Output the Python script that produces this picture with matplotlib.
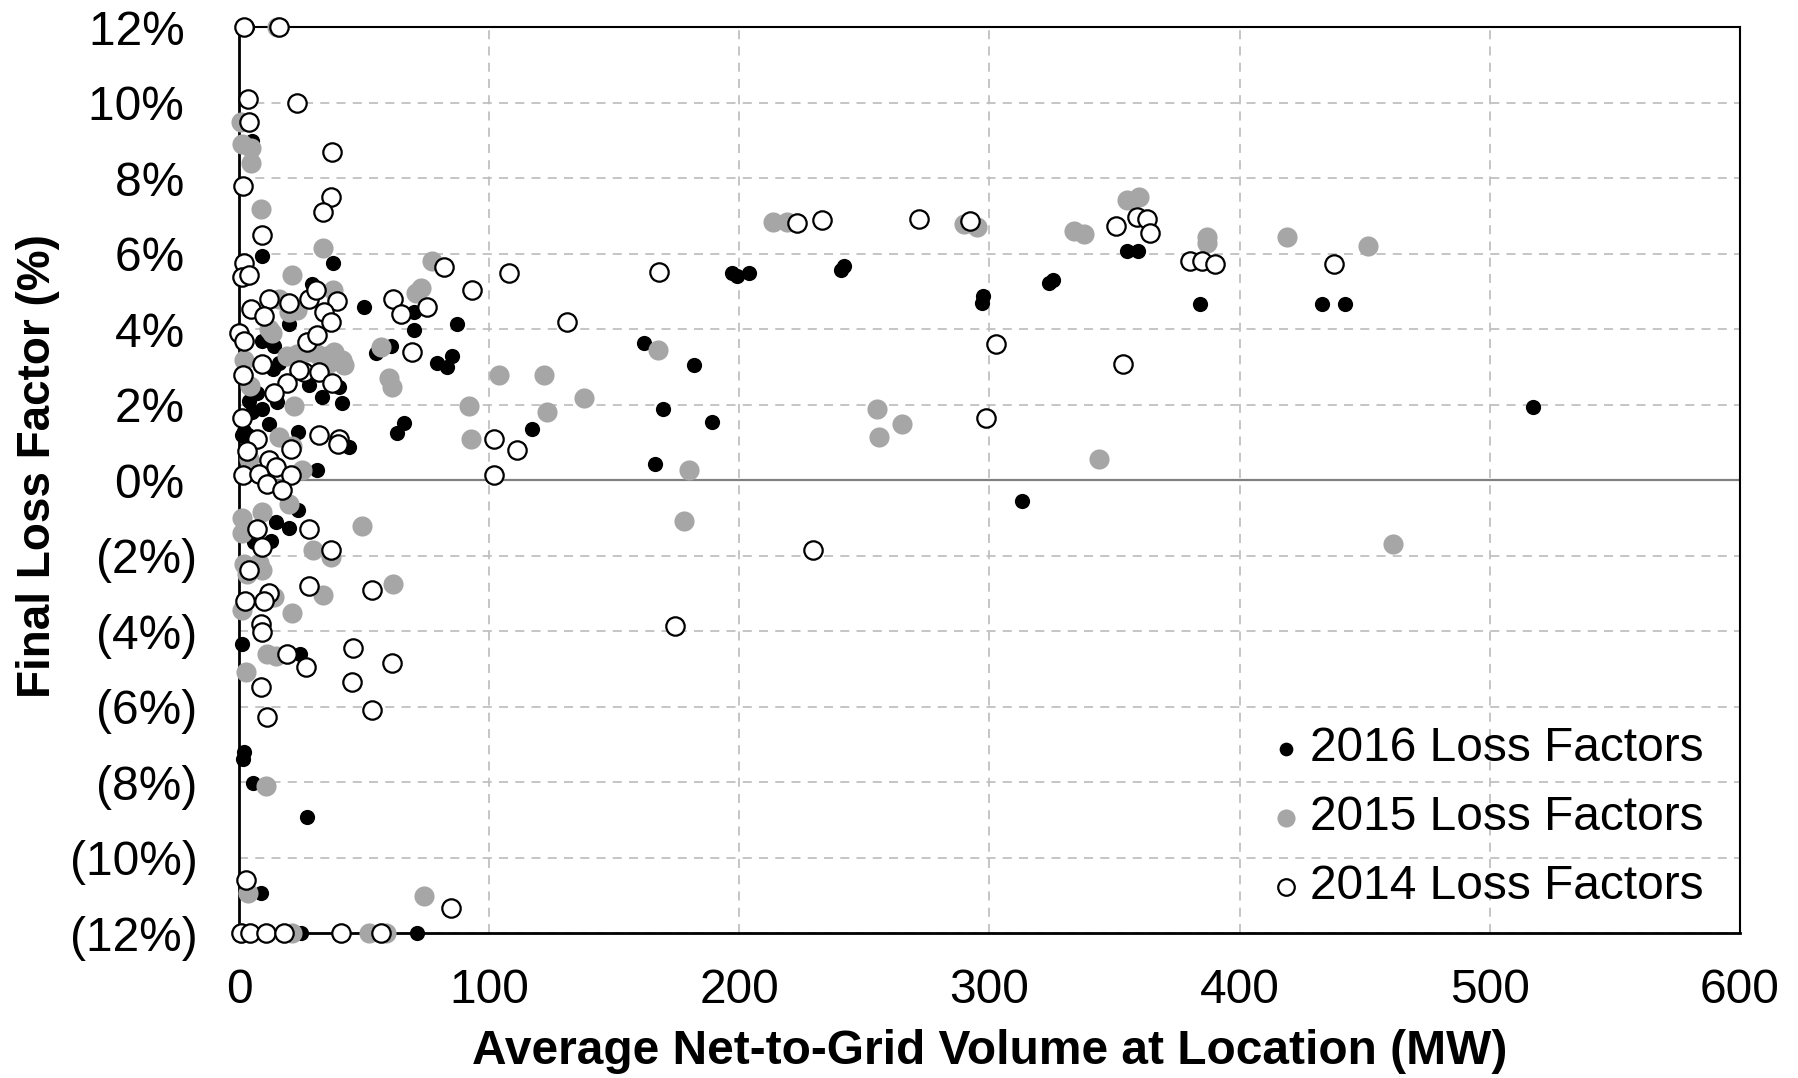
import matplotlib
matplotlib.use("Agg")
import matplotlib.pyplot as plt
from matplotlib.ticker import FuncFormatter, MultipleLocator

plt.rcParams['font.family'] = ['Liberation Sans', 'DejaVu Sans']

# 2016 loss factors (MW, %)
x16 = [3, 5, 9, 37.5, 29, 50, 70, 20, 87, 70, 9, 14, 60.5, 54.5, 16, 13.6, 79, 85, 83,
       28, 40, 33, 41, 15, 4, 9, 5, 12, 23.5, 3.5, 1, 44, 31, 63, 66, 117, 131, 162,
       166.4, 169.6, 182, 189, 197, 199, 204, 240.6, 242, 297.5, 297, 313, 324, 325.5,
       355, 359.5, 384, 433, 442, 517.5, 23.5, 14.5, 20, 12.5, 6, 1.2, 24.3, 1.9, 1.6,
       5.5, 27.2, 8.5, 24.5, 71.2, 2, 7]
y16 = [12, 9.0, 5.95, 5.75, 5.2, 4.6, 4.47, 4.15, 4.15, 3.97, 3.7, 3.55, 3.56, 3.36, 3.1,
       2.95, 3.11, 3.29, 3.01, 2.52, 2.48, 2.2, 2.05, 2.08, 2.1, 1.9, 1.8, 1.5, 1.27, 1.2,
       1.2, 0.88, 0.27, 1.24, 1.52, 1.36, 4.15, 3.64, 0.44, 1.9, 3.05, 1.54, 5.5, 5.42,
       5.48, 5.57, 5.68, 4.88, 4.7, -0.56, 5.22, 5.3, 6.07, 6.07, 4.67, 4.67, 4.67, 1.93,
       -0.8, -1.1, -1.26, -1.6, -1.64, -4.34, -4.6, -7.2, -7.4, -8.03, -8.92, -10.93,
       -12, -12, 1.3, 2.3]

# 2015 loss factors
x15 = [15, 0.5, 1, 4.5, 4.5, 8.5, 33.5, 21, 77, 72.5, 70.5, 37.5, 16, 23, 20, 12, 13, 19,
       23, 27, 31, 35, 38, 41, 42, 36, 2, 4.3, 22, 16, 21, 25, 4, 56.5, 60, 61, 92, 92.7,
       104, 122, 123, 138, 167.3, 180, 178, 213.5, 219, 255, 256, 265, 290, 295, 334, 338,
       343.7, 355, 360, 387, 387, 419, 451.4, 461.5, 1.2, 9, 1.2, 20, 49, 29.6, 36.5, 1.9,
       2.9, 9.2, 33.6, 61.4, 14, 1.2, 21, 11, 14.5, 2.6, 10.5, 3.5, 74, 0.5, 21.2, 51.8,
       58.5, 8]
y15 = [12, 9.5, 8.9, 8.8, 8.4, 7.2, 6.15, 5.45, 5.8, 5.1, 4.95, 5.05, 4.8, 4.5, 4.45, 4.0,
       3.9, 3.3, 3.35, 3.4, 3.35, 3.3, 3.4, 3.2, 3.05, 3.1, 3.2, 2.5, 1.96, 1.15, 0.9, 0.27,
       0.55, 3.54, 2.7, 2.48, 1.96, 1.1, 2.79, 2.79, 1.81, 2.18, 3.46, 0.26, -1.08, 6.85,
       6.85, 1.9, 1.14, 1.48, 6.78, 6.72, 6.6, 6.53, 0.56, 7.44, 7.5, 6.44, 6.3, 6.44, 6.2,
       -1.69, -1.0, -0.85, -1.4, -0.62, -1.2, -1.86, -2.04, -2.21, -2.48, -2.39, -3.03,
       -2.74, -3.1, -3.45, -3.52, -4.6, -4.65, -5.09, -8.1, -10.93, -11.03, -12, -12, -12,
       -12, -2.2]

# 2014 loss factors
x14 = [2, 16, 3.5, 23, 4, 37, 1.5, 36.5, 33.6, 9, 2, 1, 4, 82, 108, 93, 61.5, 64.5, 75, 12,
       4.5, 10, 20, 28, 30.5, 39, 34, 36.5, 0, 2, 27, 31, 9, 1.6, 26, 32, 24, 19, 14, 37,
       1.2, 32, 40, 39.5, 7, 3.2, 20.5, 12, 14.5, 1.6, 8, 20.5, 11.2, 17, 69, 102, 111, 102,
       131, 167.7, 174.2, 223, 233, 229.6, 272, 292.4, 302.5, 298.8, 350.6, 353.3, 359, 363,
       364.3, 380.4, 385, 390, 437.7, 7.2, 28, 9.2, 36.5, 3.9, 28, 53, 2.3, 12, 10, 8.5,
       9.2, 45.6, 19, 26.5, 61, 45, 8.5, 53, 11.2, 2.6, 84.7, 0.8, 4.3, 10.5, 17.9, 40.8,
       56.5]
y14 = [12, 12, 10.1, 10, 9.5, 8.7, 7.8, 7.5, 7.1, 6.5, 5.75, 5.4, 5.45, 5.65, 5.5, 5.05,
       4.8, 4.4, 4.6, 4.8, 4.55, 4.35, 4.7, 4.8, 5.05, 4.75, 4.45, 4.2, 3.9, 3.7, 3.67,
       3.85, 3.07, 2.8, 2.88, 2.88, 2.92, 2.57, 2.32, 2.57, 1.64, 1.21, 1.1, 0.95, 1.1,
       0.77, 0.84, 0.53, 0.35, 0.13, 0.16, 0.13, -0.09, -0.27, 3.41, 1.1, 0.8, 0.13, 4.2,
       5.53, -3.85, 6.83, 6.9, -1.84, 6.93, 6.87, 3.61, 1.66, 6.75, 3.09, 6.99, 6.93, 6.56,
       5.8, 5.8, 5.74, 5.74, -1.28, -1.28, -1.77, -1.86, -2.37, -2.79, -2.9, -3.19, -3.0,
       -3.2, -3.8, -4.03, -4.45, -4.6, -4.94, -4.85, -5.35, -5.49, -6.1, -6.28, -10.6,
       -11.35, -12, -12, -12, -12, -12, -12]

fig = plt.figure(figsize=(17.99, 10.78), dpi=100)
ax = fig.add_axes([0.133, 0.1345, 0.834, 0.84])

ax.scatter(x16, y16, s=120, color='black', linewidths=0, clip_on=False, zorder=3,
           label='2016 Loss Factors')
ax.scatter(x15, y15, s=210, color='#a6a6a6', linewidths=0, clip_on=False, zorder=4,
           label='2015 Loss Factors')
ax.scatter(x14, y14, s=175, facecolor='white', edgecolor='black', linewidths=1.6,
           clip_on=False, zorder=5, label='2014 Loss Factors')

ax.set_xlim(0, 600)
ax.set_ylim(-12, 12)
ax.xaxis.set_major_locator(MultipleLocator(100))
ax.yaxis.set_major_locator(MultipleLocator(2))


def pct(v, pos):
    v = int(round(v))
    if v < 0:
        return '(%d%%)' % abs(v)
    return '%d%% ' % v


ax.yaxis.set_major_formatter(FuncFormatter(pct))
ax.tick_params(axis='both', length=0, labelsize=34.5)
ax.tick_params(axis='y', pad=30)
ax.tick_params(axis='x', pad=25)

ax.grid(True, color='#c0c0c0', linestyle=(0, (5, 4)), linewidth=1.3, zorder=0)
ax.set_axisbelow(True)
ax.axhline(0, color='#808080', linewidth=1.6, zorder=1)

for sp in ax.spines.values():
    sp.set_color('black')
    sp.set_linewidth(1.5)
ax.spines['left'].set_linewidth(2)
ax.spines['bottom'].set_linewidth(2)

ax.set_xlabel('Average Net-to-Grid Volume at Location (MW)', fontsize=34.5,
              fontweight='bold', labelpad=12)
ax.set_ylabel('Final Loss Factor (%)', fontsize=33, fontweight='bold')
ax.yaxis.set_label_coords(-0.1193, 0.516)

leg = ax.legend(loc='lower right', bbox_to_anchor=(0.9885, 0.005), frameon=False,
                fontsize=34.5, markerscale=0.9, handletextpad=0.1, labelspacing=0.5,
                borderaxespad=0, handlelength=0.8)

fig.savefig('out.png', dpi=100)
